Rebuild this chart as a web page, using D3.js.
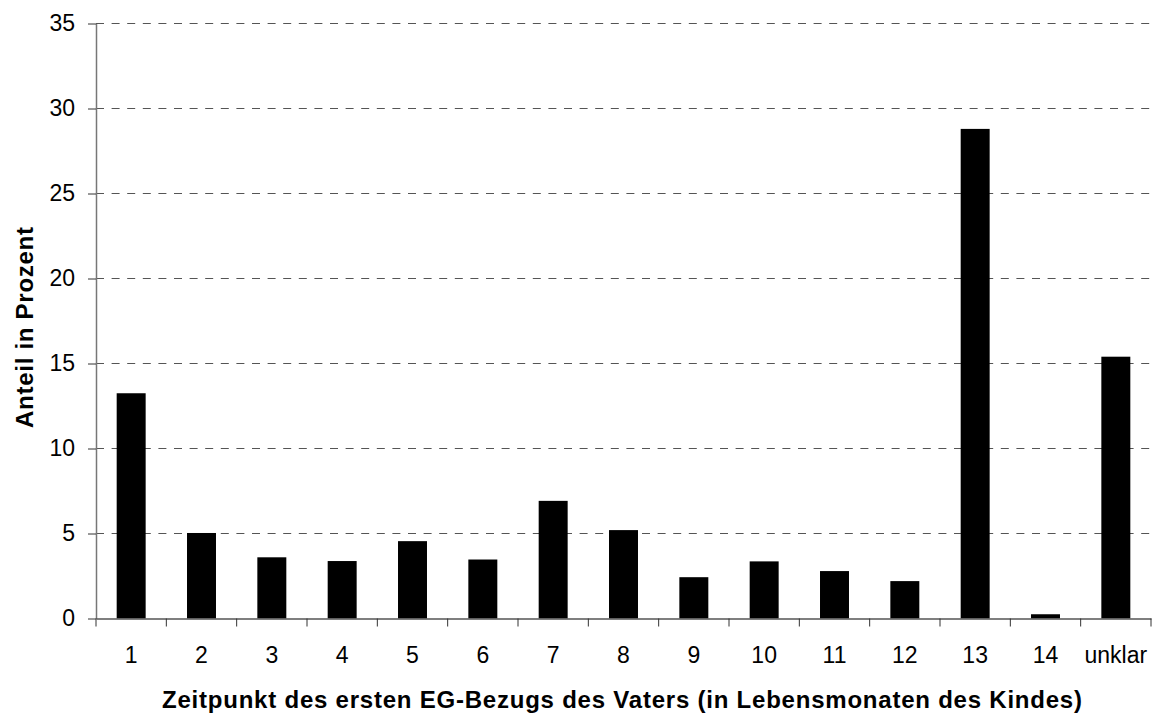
<!DOCTYPE html>
<html>
<head>
<meta charset="utf-8">
<script src="https://cdn.jsdelivr.net/npm/d3@7"></script>
<style>
  html, body { margin: 0; padding: 0; background: #fff; }
  svg { display: block; font-family: "Liberation Sans", Arial, sans-serif; }
</style>
</head>
<body>
<svg id="chart" width="1157" height="715"></svg>
<script>
const categories = ["1","2","3","4","5","6","7","8","9","10","11","12","13","14","unklar"];
const values = [13.25, 5.03, 3.6, 3.38, 4.55, 3.47, 6.92, 5.2, 2.43, 3.36, 2.79, 2.2, 28.8, 0.25, 15.4];
const yTicks = [0, 5, 10, 15, 20, 25, 30, 35];
const xTitle = "Zeitpunkt des ersten EG-Bezugs des Vaters (in Lebensmonaten des Kindes)";
const yTitle = "Anteil in Prozent";

const svg = d3.select("#chart");
const plotLeft = 96, plotRight = 1151, plotTop = 23.5, plotBottom = 618.5;

const x = d3.scaleBand().domain(categories).range([plotLeft, plotRight]).paddingInner(0).paddingOuter(0);
const y = d3.scaleLinear().domain([0, 35]).range([plotBottom, plotTop]);
const barW = x.bandwidth() * 0.412;

// gridlines
svg.append("g").selectAll("line").data(yTicks.filter(d => d > 0)).join("line")
  .attr("x1", plotLeft).attr("x2", plotRight)
  .attr("y1", d => y(d)).attr("y2", d => y(d))
  .attr("stroke", "#555").attr("stroke-width", 1)
  .attr("stroke-dasharray", "8 7.6");

// bars
svg.append("g").selectAll("rect").data(values).join("rect")
  .attr("x", (d, i) => x(categories[i]) + (x.bandwidth() - barW) / 2)
  .attr("width", barW)
  .attr("y", d => y(d))
  .attr("height", d => plotBottom - y(d))
  .attr("fill", "#000");

// y axis
const yAxis = svg.append("g").attr("transform", `translate(${plotLeft},0)`)
  .call(d3.axisLeft(y).tickValues(yTicks).tickSize(8).tickPadding(13).tickSizeOuter(0));
yAxis.select(".domain").attr("stroke", "#777").attr("stroke-width", 1.5);
yAxis.selectAll(".tick line").attr("stroke", "#333");
yAxis.selectAll("text").attr("font-size", 23).attr("fill", "#000")
  .attr("font-family", "'Liberation Sans', Arial, sans-serif");

// x axis labels
const xAxis = svg.append("g").attr("transform", `translate(0,${plotBottom})`)
  .call(d3.axisBottom(x).tickSize(0).tickPadding(28));
xAxis.select(".domain").attr("stroke", "#555").attr("stroke-width", 1.5);
xAxis.selectAll("text").attr("font-size", 23).attr("fill", "#000")
  .attr("font-family", "'Liberation Sans', Arial, sans-serif");

// x ticks at category boundaries
const edges = categories.map(c => x(c)).concat([plotRight]);
svg.append("g").selectAll("line").data(edges).join("line")
  .attr("x1", d => d).attr("x2", d => d)
  .attr("y1", plotBottom).attr("y2", plotBottom + 8)
  .attr("stroke", "#333").attr("stroke-width", 1);

// titles
svg.append("text")
  .attr("x", (162 + 1082) / 2).attr("y", 708)
  .attr("text-anchor", "middle")
  .attr("font-size", 24).attr("font-weight", "bold")
  .attr("textLength", 920).attr("lengthAdjust", "spacing")
  .text(xTitle);

svg.append("text")
  .attr("transform", `translate(33,327.5) rotate(-90)`)
  .attr("text-anchor", "middle")
  .attr("font-size", 24).attr("font-weight", "bold")
  .attr("textLength", 201).attr("lengthAdjust", "spacing")
  .text(yTitle);
</script>
</body>
</html>
